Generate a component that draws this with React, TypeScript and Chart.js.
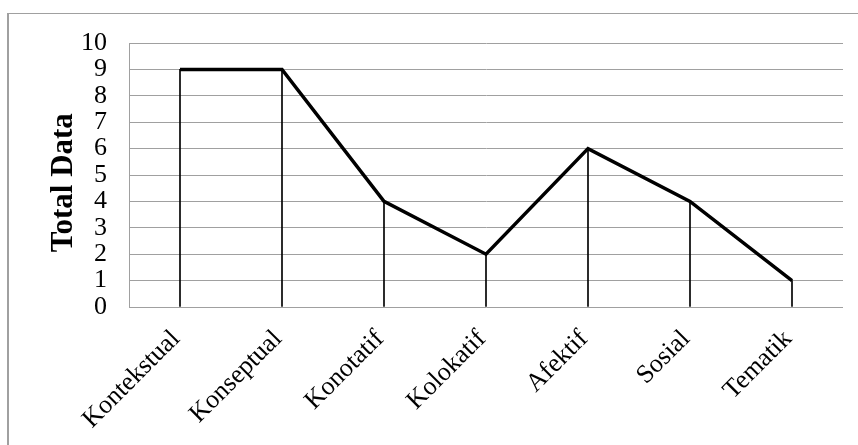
import React, { useEffect, useRef } from "react";
import { Chart, registerables } from "chart.js";

Chart.register(...registerables);

const categories = ["Kontekstual", "Konseptual", "Konotatif", "Kolokatif", "Afektif", "Sosial", "Tematik"];
const totalData = [9, 9, 4, 2, 6, 4, 1];
const yMin = 0;
const yMax = 10;
const yStep = 1;
const yTitle = "Total Data";

const FONT = "'Liberation Serif', 'Times New Roman', serif";
const GRID = "#a0a0a0";

export default function App() {
  const ref = useRef<HTMLCanvasElement | null>(null);

  useEffect(() => {
    if (!ref.current) return;
    const chart = new Chart(ref.current, {
      type: "bar",
      data: {
        labels: categories,
        datasets: [
          {
            type: "line",
            data: totalData,
            borderColor: "#000",
            borderWidth: 3.5,
            pointRadius: 0,
            pointHoverRadius: 0,
            tension: 0,
            fill: false,
            order: 0,
          } as any,
          {
            type: "bar",
            data: totalData,
            backgroundColor: "#000",
            borderWidth: 0,
            barThickness: 1,
            order: 1,
          } as any,
        ],
      },
      options: {
        animation: false,
        responsive: false,
        maintainAspectRatio: false,
        events: [],
        layout: { padding: { top: 43, right: 15, left: 0, bottom: 0 } },
        plugins: {
          legend: { display: false },
          tooltip: { enabled: false },
        },
        scales: {
          x: {
            offset: true,
            grid: { display: false },
            border: { display: false },
            ticks: {
              autoSkip: false,
              minRotation: 45,
              maxRotation: 45,
              color: "#000",
              padding: 9,
              labelOffset: -4,
              font: { family: FONT, size: 26 },
            },
            afterFit: (scale: any) => {
              scale.height = 138;
            },
          },
          y: {
            min: yMin,
            max: yMax,
            grid: { color: GRID, lineWidth: 1, drawTicks: false },
            border: { display: true, color: GRID, width: 1 },
            ticks: {
              stepSize: yStep,
              autoSkip: false,
              color: "#000",
              padding: 22,
              font: { family: FONT, size: 26, lineHeight: 1 },
            },
            title: {
              display: true,
              text: yTitle + "  ",
              color: "#000",
              font: { family: FONT, size: 31, weight: "bold" },
              padding: { top: 45, bottom: 0 },
            },
            afterFit: (scale: any) => {
              scale.width = 129;
            },
          },
        },
      },
    });
    return () => chart.destroy();
  }, []);

  return (
    <div style={{ position: "fixed", left: 0, top: 0, width: 858, height: 445, background: "#fff" }}>
      <div
        style={{
          position: "absolute",
          left: 7,
          top: 13,
          width: 860,
          height: 440,
          borderTop: "1px solid #a0a0a0",
          borderLeft: "2px solid #a0a0a0",
        }}
      />
      <canvas ref={ref} width={858} height={445} style={{ position: "absolute", left: 0, top: 0, display: "block" }} />
    </div>
  );
}
